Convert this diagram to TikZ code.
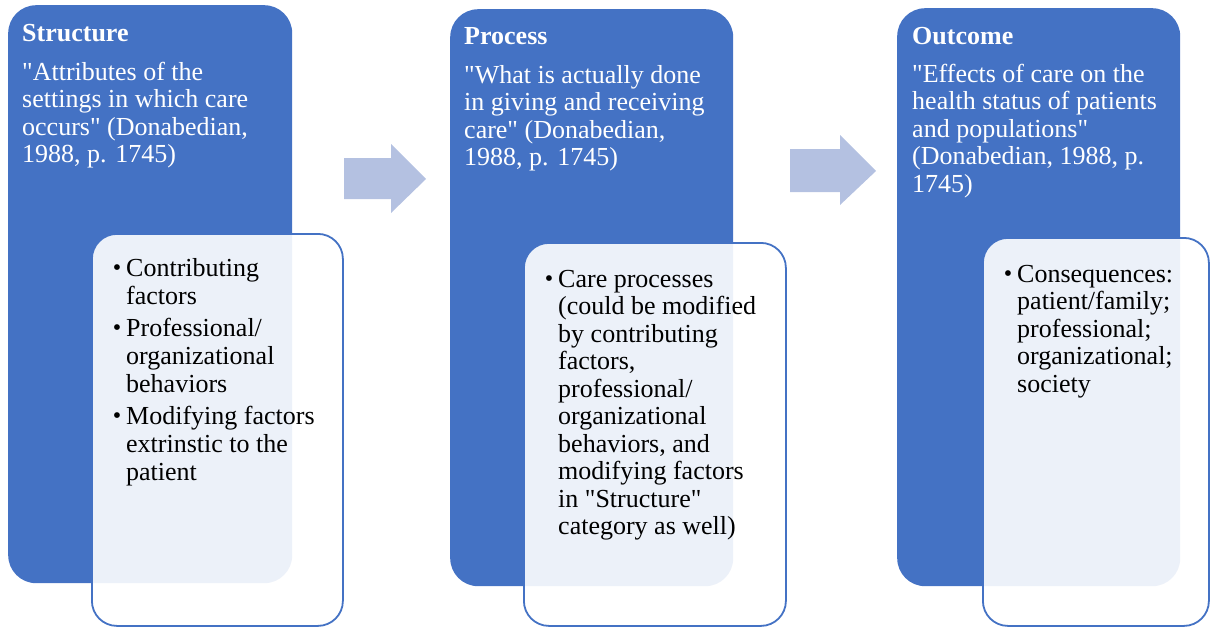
\documentclass[tikz,border=0pt]{standalone}
\usepackage{fontspec}
\setmainfont{Liberation Serif}[Ligatures=TeXOff]
\definecolor{accent}{HTML}{4472C4}
\definecolor{arrowfill}{HTML}{B4C1E1}
\newcommand{\itemdot}{\llap{{\fontsize{24}{24}\selectfont\raisebox{0.5pt}{•}}\hspace{5pt}}}
\newcommand{\dq}{\symbol{34}}

\begin{document}
\begin{tikzpicture}[x=1pt,y=-1pt,
  blockbox/.style={fill=accent, draw=none, rounded corners=28pt, anchor=north west, inner sep=0pt},
  listbox/.style={draw=accent, line width=1.8pt, fill=white, fill opacity=0.9,
    rounded corners=25pt, anchor=north west, inner sep=0pt},
  head/.style={anchor=base west, inner sep=0pt, text=white,
    font=\fontsize{26}{27.5}\selectfont\bfseries},
  % multi-line texts are placed by the baseline of their last line
  quote/.style={anchor=base west, inner sep=0pt, text=white, align=left,
    font=\fontsize{26}{27.5}\selectfont},
  items/.style={anchor=base west, inner sep=0pt, text=black, align=left,
    font=\fontsize{26}{27.5}\selectfont},
  blockarrow/.style={fill=arrowfill, draw=none}]

\useasboundingbox (0,0) rectangle (1210,627);

% Structure column
\node[blockbox, minimum width=284pt, minimum height=578pt] (sblock) at (8,5) {};
\node[listbox, minimum width=251pt, minimum height=392pt] (slist) at (91,233) {};
\node[head] (stitle) at (22,41) {Structure};
\node[quote] (squote) at (22,162.5) {\dq Attributes of the\\settings in which care\\occurs\dq{} (Donabedian,\\1988, p. 1745)};
\node[items, font=\fontsize{26}{28}\selectfont] (sitems) at (126,480) {\itemdot Contributing\\factors\\[4pt]\itemdot Professional/\\organizational\\behaviors\\[4pt]\itemdot Modifying factors\\extrinstic to the\\patient};

% Process column
\node[blockbox, minimum width=283pt, minimum height=577pt] (pblock) at (450,9) {};
\node[listbox, minimum width=262pt, minimum height=383pt] (plist) at (523,242) {};
\node[head] (ptitle) at (464,44) {Process};
\node[quote] (pquote) at (464,165.5) {\dq What is actually done\\in giving and receiving\\care\dq{} (Donabedian,\\1988, p. 1745)};
\node[items] (pitems) at (558,534.5) {\itemdot Care processes\\(could be modified\\by contributing\\factors,\\professional/\\organizational\\behaviors, and\\modifying factors\\in \dq Structure\dq\\category as well)};

% Outcome column
\node[blockbox, minimum width=283pt, minimum height=578pt] (oblock) at (897,8) {};
\node[listbox, minimum width=226pt, minimum height=388pt] (olist) at (982,237) {};
\node[head] (otitle) at (912,44) {Outcome};
\node[quote] (oquote) at (912,192) {\dq Effects of care on the\\health status of patients\\and populations\dq\\(Donabedian, 1988, p.\\1745)};
\node[items] (oitems) at (1017,392) {\itemdot Consequences:\\patient/family;\\professional;\\organizational;\\society};

% block arrows between the columns
\fill[blockarrow] (344,158) -- (391,158) -- (391,144) -- (426,179) -- (391,213) -- (391,199) -- (344,199) -- cycle;
\fill[blockarrow] (790,149) -- (840,149) -- (840,135) -- (876,171) -- (840,205) -- (840,192) -- (790,192) -- cycle;
\end{tikzpicture}
\end{document}
